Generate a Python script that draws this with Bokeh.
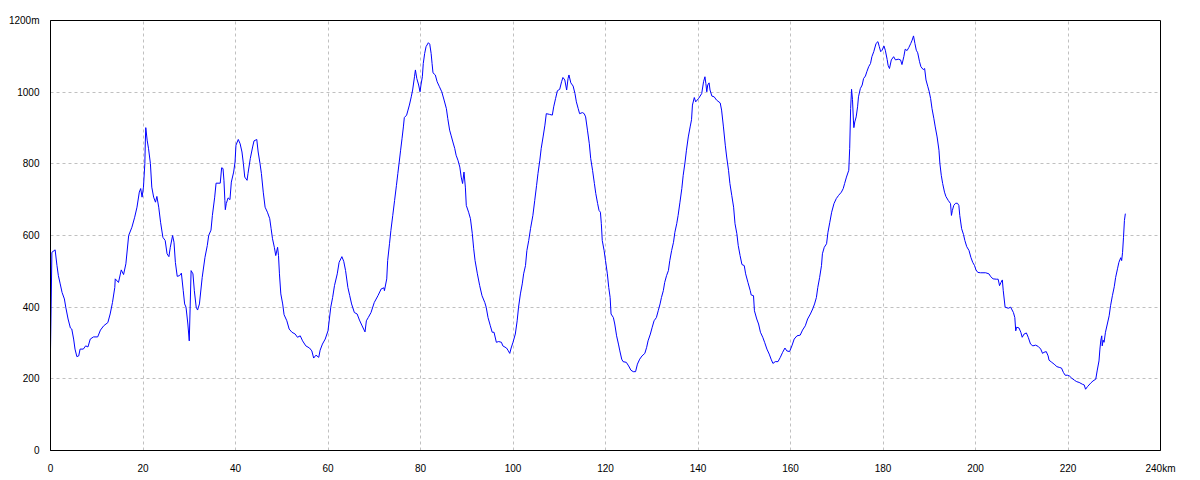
from bokeh.plotting import figure
from bokeh.models import Range1d, FixedTicker, ColumnDataSource
from bokeh.embed import file_html
from bokeh.resources import INLINE

# Elevation profile: distance (km) and elevation (m)
km = [0.0, 0.0, 0.3, 1.0, 1.4, 1.7, 2.1, 2.5, 3.0, 3.3, 3.8, 4.3, 4.6, 5.0, 5.3, 5.7, 6.1, 6.4, 7.1, 7.6,
      8.1, 8.6, 9.3, 10.2, 10.8, 11.5, 12.4, 12.9, 13.4, 13.9, 14.0, 14.7, 15.3, 15.8, 16.3, 16.9, 17.6,
      18.2, 18.7, 19.2, 19.5, 19.8, 20.1, 20.4, 20.5, 20.6, 20.9, 21.2, 21.6, 21.9, 22.3, 22.7, 23.0,
      23.4, 23.8, 24.3, 24.8, 25.2, 25.6, 25.9, 26.4, 26.7, 27.0, 27.4, 27.9, 28.3, 28.7, 29.0, 29.3,
      29.7, 30.0, 30.1, 30.4, 30.8, 31.1, 31.5, 31.8, 32.2, 32.8, 33.4, 33.9, 34.2, 34.7, 35.0, 35.5,
      35.8, 36.7, 37.0, 37.3, 37.5, 37.7, 37.8, 38.0, 38.4, 38.8, 39.1, 39.6, 39.9, 40.1, 40.6, 41.0,
      41.4, 41.7, 42.0, 42.5, 42.7, 43.2, 43.7, 44.0, 44.6, 44.9, 45.3, 45.6, 46.0, 46.4, 46.9, 47.4,
      47.7, 48.0, 48.4, 48.7, 49.1, 49.3, 49.5, 49.8, 50.2, 50.5, 51.1, 51.6, 52.2, 52.9, 53.4, 54.0,
      54.5, 55.2, 56.0, 56.5, 56.9, 57.4, 58.0, 58.3, 58.8, 59.4, 60.0, 60.3, 60.6, 61.0, 61.4, 62.0,
      62.4, 63.0, 63.4, 63.8, 64.3, 64.7, 65.1, 65.7, 66.3, 66.8, 67.3, 67.7, 68.0, 68.3, 68.7, 69.3,
      70.0, 70.8, 71.5, 72.1, 72.2, 72.7, 72.9, 73.3, 73.6, 74.0, 74.4, 74.8, 75.1, 75.4, 75.7, 76.0,
      76.3, 76.5, 77.0, 77.3, 77.6, 78.0, 78.3, 78.7, 78.9, 79.2, 79.6, 79.9, 80.1, 80.4, 80.6, 80.9,
      81.2, 81.7, 82.0, 82.3, 82.5, 82.7, 83.2, 83.6, 84.1, 84.6, 85.1, 85.6, 85.9, 86.3, 86.6, 87.0,
      87.4, 87.7, 88.1, 88.5, 88.8, 89.1, 89.4, 89.7, 89.9, 90.4, 90.8, 91.2, 91.5, 91.8, 92.3, 92.8,
      93.3, 93.9, 94.2, 94.6, 95.1, 95.5, 95.9, 96.4, 96.9, 97.5, 97.8, 98.6, 98.9, 99.3, 99.6, 100.0,
      100.5, 100.9, 101.2, 101.6, 102.0, 102.3, 102.7, 103.0, 103.4, 103.8, 104.3, 104.7, 105.1, 105.4,
      105.8, 106.1, 106.5, 106.9, 107.2, 107.9, 108.5, 108.8, 109.2, 109.6, 110.1, 110.5, 110.8, 111.2,
      111.6, 111.9, 112.1, 112.5, 113.0, 113.4, 113.7, 114.1, 114.4, 115.0, 115.4, 115.7, 116.1, 116.5,
      116.8, 117.2, 117.6, 117.9, 118.3, 118.6, 118.9, 119.1, 119.3, 119.7, 120.0, 120.4, 120.7, 121.0,
      121.2, 121.7, 122.0, 122.4, 122.8, 123.1, 123.5, 123.8, 124.5, 125.0, 125.5, 126.0, 126.5, 126.9,
      127.4, 127.9, 128.5, 128.9, 129.2, 129.7, 130.1, 130.5, 131.0, 131.4, 131.8, 132.1, 132.5, 132.8,
      133.2, 133.6, 133.9, 134.3, 134.7, 135.0, 135.4, 135.7, 136.1, 136.5, 136.8, 137.2, 137.5, 137.9,
      138.3, 138.6, 138.8, 139.2, 139.5, 140.1, 140.8, 141.2, 141.5, 141.7, 141.9, 142.1, 142.4, 142.6,
      143.0, 143.5, 144.0, 144.8, 145.1, 145.5, 145.9, 146.2, 146.6, 146.9, 147.3, 147.7, 148.0, 148.4,
      148.7, 149.1, 149.5, 150.0, 150.3, 150.8, 151.3, 151.5, 152.0, 152.2, 152.7, 153.1, 153.5, 154.0,
      154.4, 154.9, 155.4, 155.8, 156.2, 156.7, 157.3, 157.8, 158.3, 158.8, 159.2, 159.8, 160.3, 160.8,
      161.4, 162.1, 162.6, 163.2, 163.7, 164.3, 164.8, 165.2, 165.6, 165.9, 166.3, 166.7, 166.9, 167.3,
      167.8, 168.1, 168.5, 168.9, 169.4, 169.9, 170.4, 171.0, 171.4, 171.7, 172.1, 172.6, 172.8, 173.0,
      173.2, 173.4, 173.6, 173.7, 173.9, 174.2, 174.5, 174.7, 175.1, 175.5, 175.8, 176.2, 176.5, 176.9,
      177.3, 177.6, 178.0, 178.5, 178.9, 179.2, 179.5, 179.8, 180.2, 180.5, 180.9, 181.1, 181.4, 181.8,
      182.3, 182.7, 183.3, 183.8, 184.1, 184.5, 184.8, 185.2, 185.6, 186.0, 186.3, 186.6, 186.9, 187.2,
      187.5, 187.9, 188.2, 188.7, 189.0, 189.3, 189.7, 190.0, 190.3, 190.6, 191.0, 191.3, 191.7, 192.1,
      192.3, 192.6, 192.9, 193.3, 193.6, 194.1, 194.6, 194.8, 195.0, 195.3, 195.7, 196.1, 196.4, 196.6,
      197.0, 197.4, 197.7, 198.1, 198.6, 199.0, 199.4, 199.8, 200.1, 200.5, 201.1, 202.2, 202.9, 203.3,
      203.8, 204.5, 204.9, 205.2, 205.5, 205.8, 206.0, 206.4, 207.1, 207.6, 208.2, 208.5, 208.7, 208.9,
      209.4, 209.8, 210.1, 210.5, 211.0, 211.4, 211.9, 212.4, 213.0, 213.6, 214.1, 214.5, 214.8, 215.3,
      215.7, 215.9, 216.5, 217.0, 217.6, 218.1, 218.6, 219.0, 219.4, 219.9, 220.3, 220.8, 221.4, 221.9,
      222.4, 223.1, 223.5, 223.8, 224.2, 224.9, 225.4, 226.0, 226.3, 226.7, 226.9, 227.1, 227.3, 227.4,
      227.6, 227.8, 228.1, 228.5, 228.9, 229.2, 229.6, 230.0, 230.3, 230.7, 231.0, 231.4, 231.6, 231.8,
      232.0, 232.2, 232.4]
elev = [0, 280, 553, 560, 516, 488, 465, 441, 423, 400, 367, 342, 339, 311, 283, 262, 264, 283, 283, 292,
        289, 311, 317, 317, 336, 348, 357, 381, 413, 455, 479, 469, 504, 491, 521, 600, 623,
        651, 679, 721, 731, 707, 735, 801, 861, 901, 866, 842, 801, 735, 707, 693, 709,
        679, 637, 595, 586, 549, 541, 567, 600, 581, 525, 486, 488, 495, 446, 409, 400,
        353, 306, 353, 502, 493, 446, 400, 392, 409, 483, 539, 572, 600, 615, 656, 707,
        746, 746, 789, 787, 754, 698, 672, 689, 705, 700, 749, 777, 805, 852, 868, 856,
        833, 801, 763, 754, 773, 815, 847, 864, 868, 833, 801, 773, 721, 679, 665, 647,
        619, 591, 567, 544, 567, 544, 493, 437, 409, 379, 362, 339, 330, 325, 316, 320,
        306, 292, 286, 278, 258, 266, 260, 280, 297, 311, 334, 367, 400, 427, 460, 493,
        525, 541, 528, 502, 455, 432, 409, 385, 381, 364, 350, 339, 331, 362, 371, 385,
        413, 432, 451, 454, 446, 479, 530, 577, 614, 656, 698, 740, 773, 805, 838, 870,
        903, 929, 936, 950, 964, 987, 1006, 1043, 1062, 1038, 1020, 1001, 1020, 1043, 1080, 1108,
        1127, 1138, 1134, 1108, 1080, 1054, 1048, 1029, 1015, 1001, 978, 954, 926, 894, 880, 861,
        843, 824, 810, 791, 763, 745, 777, 735, 684, 665, 647, 605, 563, 530, 493, 460,
        432, 413, 400, 371, 348, 330, 330, 302, 304, 302, 292, 286, 280, 271, 286, 302,
        325, 362, 400, 437, 465, 493, 516, 558, 586, 620, 656, 698, 740, 773,
        810, 843, 875, 908, 940, 938, 936, 959, 982, 1004, 1008, 1029, 1041, 1034,
        1006, 1038, 1048, 1026, 1017, 996, 973, 954, 940, 943, 940, 931, 894, 856,
        815, 782, 745, 717, 689, 670, 665, 633, 586, 558, 530, 493, 455, 427,
        381, 371, 353, 320, 297, 278, 255, 248, 246, 236, 224, 220, 220, 241,
        255, 264, 271, 288, 306, 325, 344, 362, 371, 390, 409, 427, 446, 469,
        488, 502, 530, 558, 581, 609, 633, 656, 693, 731, 768, 805, 838, 875,
        903, 923, 964, 985, 973, 982, 996, 1029, 1043, 1024, 1001, 1020, 1026, 1006,
        989, 987, 978, 970, 950, 903, 852, 819, 782, 745, 712, 679, 633, 605,
        572, 544, 519, 516, 493, 469, 446, 434, 432, 390, 367, 353, 330, 316,
        302, 283, 269, 255, 243, 248, 248, 260, 274, 286, 278, 276, 292, 311,
        320, 322, 336, 348, 367, 381, 395, 409, 427, 455, 483, 516, 549, 567,
        577, 609, 637, 665, 689, 703, 712, 721, 731, 745, 763, 782, 843, 954,
        1008, 980, 922, 901, 917, 931, 959, 987, 1010, 1020, 1038, 1045, 1057, 1071,
        1080, 1099, 1113, 1136, 1141, 1127, 1113, 1117, 1129, 1117, 1091, 1075, 1066, 1090,
        1099, 1090, 1092, 1090, 1077, 1099, 1120, 1116, 1125, 1136, 1145, 1157, 1136, 1117,
        1110, 1085, 1071, 1063, 1066, 1034, 1015, 1001, 982, 954, 926, 903, 875, 838,
        801, 768, 745, 721, 709, 698, 689, 656, 670, 684, 690, 690, 684, 656,
        619, 603, 586, 569, 558, 539, 525, 516, 504, 497, 496, 496, 493, 485,
        479, 478, 478, 460, 469, 476, 446, 400, 397, 400, 385, 371, 334, 344,
        342, 330, 316, 325, 328, 316, 297, 292, 294, 290, 283, 271, 274, 276,
        264, 252, 246, 241, 234, 232, 230, 218, 210, 210, 208, 202, 196, 192,
        190, 185, 183, 171, 178, 188, 194, 199, 222, 250, 283, 308, 320, 292,
        308, 302, 330, 353, 376, 404, 432, 457, 483, 507, 525, 538, 530, 553,
        595, 642, 661]

x_ticks = [0, 20, 40, 60, 80, 100, 120, 140, 160, 180, 200, 220, 240]
y_ticks = [0, 200, 400, 600, 800, 1000, 1200]
x_tick_labels = {240: "240km"}
y_tick_labels = {1200: "1200m"}

FONT = "Liberation Sans"

p = figure(width=1188, height=478, output_backend="svg", toolbar_location=None,
           x_range=Range1d(0, 240), y_range=Range1d(0, 1200),
           min_border_left=50, min_border_right=28, min_border_top=20, min_border_bottom=28)

src = ColumnDataSource(data=dict(km=km, elev=elev))
p.line("km", "elev", source=src, line_color="#0000ff", line_width=1)

p.background_fill_color = "white"
p.border_fill_color = "white"
p.outline_line_color = "black"
p.outline_line_width = 1
p.outline_line_alpha = 1

p.xaxis.ticker = FixedTicker(ticks=x_ticks)
p.yaxis.ticker = FixedTicker(ticks=y_ticks)
p.xaxis.major_label_overrides = x_tick_labels
p.yaxis.major_label_overrides = y_tick_labels

for ax in (p.xaxis, p.yaxis):
    ax.axis_line_color = "black"
    ax.axis_line_width = 1
    ax.major_tick_line_color = None
    ax.minor_tick_line_color = None
    ax.major_label_text_font = FONT
    ax.major_label_text_font_size = "10px"
    ax.major_label_text_color = "black"

p.xaxis.major_label_standoff = 6
p.yaxis.major_label_standoff = 5

p.xgrid.ticker = FixedTicker(ticks=x_ticks)
p.ygrid.ticker = FixedTicker(ticks=y_ticks)
for g in (p.xgrid, p.ygrid):
    g.grid_line_color = "#c0c0c0"
    g.grid_line_dash = "3 3"
    g.grid_line_width = 1

open("out.html", "w").write(file_html(p, INLINE))
